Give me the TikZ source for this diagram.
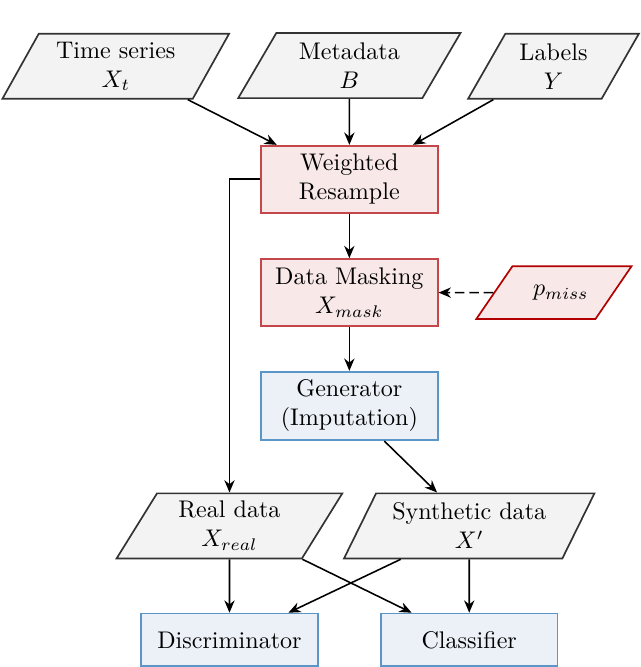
\documentclass[tikz,border=0pt]{standalone}
\usetikzlibrary{positioning,shapes.geometric,calc,arrows.meta}
\definecolor{datafill}{HTML}{F3F3F3}
\definecolor{maskfill}{HTML}{F8E8E8}
\definecolor{maskline}{HTML}{C4474C}
\definecolor{netfill}{HTML}{ECF1F7}
\definecolor{netline}{HTML}{5B96C8}
\begin{document}
\begin{tikzpicture}[
	data/.style={trapezium, trapezium left angle=60, trapezium right angle=120, trapezium stretches=true, draw=black!80, fill=datafill, line width=0.7pt, align=center, inner sep=0pt, minimum height=0.95cm},
	mask/.style={rectangle, draw=maskline, fill=maskfill, line width=0.7pt, align=center, minimum width=2.58cm, minimum height=0.98cm, inner sep=0pt},
	net/.style={rectangle, draw=netline, fill=netfill, line width=0.7pt, align=center, minimum width=2.58cm, minimum height=1cm, inner sep=0pt},
	arrow/.style={-{Stealth[length=1.8mm,width=1.5mm]}, line width=0.65pt}
	]
	\useasboundingbox (0,0) rectangle (9.343,9.737);

	% Middle column
	\node[mask] (resample) at (5.10,7.12) {Weighted\\Resample};
	\node[mask, below=0.65cm of resample] (masking) {Data Masking\\$X_{mask}$};
	\node[net, below=0.64cm of masking] (generator) {Generator\\(Imputation)};

	% Inputs
	\node[data, minimum width=3.26cm, above=0.67cm of resample] (metadata) {Metadata\\$B$};
	\node[data, minimum width=3.31cm] (series) at (1.69,8.77) {Time series\\$X_t$};
	\node[data, minimum width=2.50cm] (labels) at (8.08,8.77) {Labels\\$Y$};
	\node[data, draw=red!70!black, fill=maskfill, minimum width=2.27cm, minimum height=0.77cm, inner ysep=0.27cm, right=0.80cm of masking] (pmiss) {\hspace*{0.2cm}$p_{miss}$};

	% Outputs
	\node[data, minimum width=3.31cm] (real) at (3.35,2.06) {Real data\\$X_{real}$};
	\node[data, minimum width=3.67cm] (synthetic) at (6.85,2.06) {Synthetic data\\$X'$};
	\node[net, minimum height=0.77cm] (discriminator) at (3.35,0.395) {Discriminator};
	\node[net, minimum height=0.77cm] (classifier) at (6.85,0.395) {Classifier};

	% Arrows
	\draw[arrow] ([xshift=-0.08cm]series.bottom right corner) -- ([xshift=-1.06cm]resample.north);
	\draw[arrow] (metadata) -- (resample);
	\draw[arrow] ([xshift=0.39cm]labels.bottom left corner) -- ([xshift=0.93cm]resample.north);
	\draw[arrow] (resample) -- (masking);
	\draw[arrow] (masking) -- (generator);
	\draw[arrow, dash pattern=on 4pt off 2pt] (pmiss) -- (masking);
	\draw[arrow] (resample.west) -| (real.north);
	\draw[arrow] ([xshift=0.51cm]generator.south) -- ([xshift=-0.47cm]synthetic.north);
	\draw[arrow] (real.south) -- (discriminator.north);
	\draw[arrow] (synthetic.south) -- (classifier.north);
	\draw[arrow] (real.bottom right corner) -- ([xshift=-0.84cm]classifier.north);
	\draw[arrow] ([xshift=-1cm]synthetic.south) -- ([xshift=0.86cm]discriminator.north);
\end{tikzpicture}
\end{document}
